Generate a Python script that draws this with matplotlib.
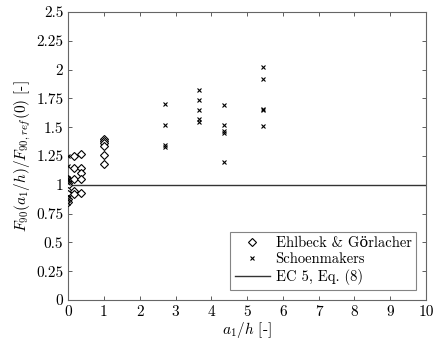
import matplotlib
matplotlib.use("Agg")
import matplotlib.pyplot as plt
import numpy as np

plt.rcParams['font.family'] = ['cmr10', 'DejaVu Serif']
plt.rcParams['mathtext.fontset'] = 'cm'
plt.rcParams['axes.formatter.use_mathtext'] = True

# Ehlbeck & Goerlacher (x = a1/h, y = ratio)
eg_x = [0, 0, 0, 0, 0, 0, 0, 0,
        0.15, 0.15, 0.15, 0.15, 0.15,
        0.35, 0.35, 0.35, 0.35, 0.35,
        1.0, 1.0, 1.0, 1.0, 1.0, 1.0]
eg_y = [1.05, 1.04, 1.02, 1.0, 0.95, 0.92, 0.88, 0.85,
        1.25, 1.15, 1.05, 0.95, 0.92,
        1.27, 1.15, 1.10, 1.05, 0.93,
        1.40, 1.38, 1.36, 1.34, 1.26, 1.18]

# Schoenmakers
sch_x = [0, 0, 0, 0, 0, 0, 0, 0,
         2.7, 2.7, 2.7, 2.7,
         3.65, 3.65, 3.65, 3.65, 3.65,
         4.35, 4.35, 4.35, 4.35, 4.35,
         5.45, 5.45, 5.45, 5.45, 5.45]
sch_y = [1.25, 1.16, 1.06, 1.04, 1.02, 0.90, 0.87, 0.84,
         1.70, 1.52, 1.35, 1.33,
         1.82, 1.74, 1.65, 1.57, 1.55,
         1.69, 1.52, 1.47, 1.45, 1.20,
         2.02, 1.92, 1.66, 1.65, 1.51]

ec5_x = [0, 10]
ec5_y = [1, 1]

yticks = [0, 0.25, 0.5, 0.75, 1, 1.25, 1.5, 1.75, 2, 2.25, 2.5]
ytick_labels = ['0', '0.25', '0.5', '0.75', '1', '1.25', '1.5', '1.75', '2', '2.25', '2.5']
xticks = list(range(11))

fig = plt.figure(figsize=(4.37, 3.46), dpi=100)
ax = fig.add_axes([0.156, 0.133, 0.819, 0.832])

ax.plot(eg_x, eg_y, linestyle='none', marker='D', markersize=4,
        markerfacecolor='white', markeredgecolor='black', markeredgewidth=0.8,
        label='Ehlbeck & Görlacher', zorder=3)
ax.plot(sch_x, sch_y, linestyle='none', marker='x', markersize=3.5,
        color='black', markeredgewidth=0.8, label='Schoenmakers', zorder=4)
ax.plot(ec5_x, ec5_y, color='#333333', linewidth=1.0, label='EC 5, Eq. (8)', zorder=2)

ax.set_xlim(0, 10)
ax.set_ylim(0, 2.5)
ax.set_xticks(xticks)
ax.set_xticklabels([str(t) for t in xticks])
ax.set_yticks(yticks)
ax.set_yticklabels(ytick_labels)
ax.tick_params(direction='in', top=True, right=True, labelsize=11,
               length=3, width=0.6, colors='#444444', labelcolor='black')
for s in ax.spines.values():
    s.set_color('#666666')
    s.set_linewidth(0.8)

ax.set_xlabel(r'$a_1/h$ [-]', fontsize=11, labelpad=1)
ax.set_ylabel(r'$F_{90}(a_1/h)/F_{90,ref}(0)$ [-]', fontsize=11, labelpad=2)

leg = ax.legend(loc='lower right', fontsize=10.5, frameon=True, fancybox=False,
                edgecolor='#666666', borderaxespad=0.7, handlelength=2.4,
                handletextpad=0.4, borderpad=0.3, labelspacing=0.2)
leg.get_frame().set_linewidth(0.8)

fig.savefig('out.png', dpi=100)
